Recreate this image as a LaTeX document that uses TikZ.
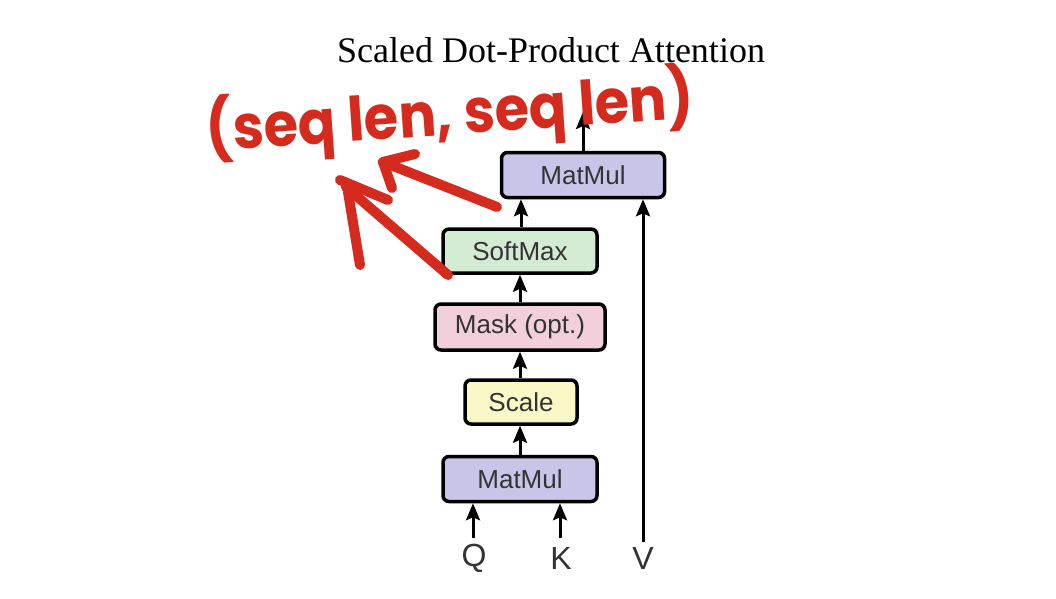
\documentclass[tikz,border=0pt]{standalone}
\usepackage{fontspec}
\setmainfont{Liberation Serif}
\newfontfamily\boxfont{Liberation Sans}
\newfontfamily\handfont{Poppins}
\usetikzlibrary{arrows.meta}
\definecolor{mmcol}{HTML}{C8C5E9}
\definecolor{smcol}{HTML}{D4EBD3}
\definecolor{mkcol}{HTML}{F1CFDB}
\definecolor{sccol}{HTML}{FAF8C6}
\definecolor{inkred}{HTML}{D52B1E}
\definecolor{txtgray}{HTML}{333333}
\tikzset{
  opbox/.style={draw=black, line width=3.5pt, rounded corners=6pt, inner sep=0pt,
    font=\boxfont\fontsize{26}{30}\selectfont, text=txtgray},
  flow/.style={line width=3pt, -{Stealth[length=17pt,width=14pt,inset=3pt]}},
  ink/.style={draw=inkred, line width=10pt, line cap=round, line join=round},
  lbl/.style={font=\boxfont\fontsize{32}{36}\selectfont, text=txtgray, inner sep=0pt}
}
\begin{document}
\begin{tikzpicture}[x=1pt,y=-1pt]
\useasboundingbox (0,0) rectangle (1056,598);
\fill[white] (0,0) rectangle (1056,598);
% title
\node (title) at (551,50) {\fontsize{36}{40}\selectfont Scaled Dot-Product Attention};
% boxes
\node[opbox, fill=mmcol, minimum width=163pt, minimum height=45pt] (mm2) at (583,175) {MatMul};
\node[opbox, fill=smcol, minimum width=154pt, minimum height=44pt] (sm) at (520,251) {SoftMax};
\node[opbox, fill=mkcol, minimum width=170pt, minimum height=46pt] (mk) at (520,327) {Mask (opt.)};
\node[opbox, fill=sccol, minimum width=112pt, minimum height=44pt] (sc) at (521,402) {Scale};
\node[opbox, fill=mmcol, minimum width=154pt, minimum height=45pt] (mm1) at (520,479) {MatMul};
% labels
\node[lbl] (q) at (474,558) {Q};
\node[lbl] (k) at (561,558) {K};
\node[lbl] (v) at (643,558) {V};
\coordinate (qs) at (473,538);
\coordinate (ks) at (560,538);
\coordinate (vs) at (643,542);
\coordinate (out) at (583,112);
% flow arrows
\draw[flow] (qs) -- (qs |- mm1.south);
\draw[flow] (ks) -- (ks |- mm1.south);
\draw[flow] (vs) -- (vs |- mm2.south);
\draw[flow] (mm1.north -| 520,0) -- (sc.south -| 520,0);
\draw[flow] (sc.north -| 520,0) -- (mk.south -| 520,0);
\draw[flow] (mk.north -| 520,0) -- (sm.south -| 520,0);
\draw[flow] (sm.north -| 521,0) -- (mm2.south -| 521,0);
\draw[flow] (mm2.north) -- (out);
% handwritten annotation
\node[text=inkred, inner sep=0pt, rotate=4] (hand) at (450,115)
  {\resizebox*{488pt}{72pt}{\handfont\bfseries (seq len, seq len)}};
\coordinate (a1s) at (497,207);
\coordinate (a1t) at (383,162);
\coordinate (a2s) at (448,275);
\coordinate (a2t) at (346,187);
\draw[ink] (a1s) -- (a1t) -- (415,154);
\draw[ink] (a1t) -- (392,188);
\draw[ink] (a2s) -- (a2t);
\draw[ink] (340,180) -- (388,200);
\draw[ink] (348,192) -- (360,265);
\end{tikzpicture}
\end{document}
